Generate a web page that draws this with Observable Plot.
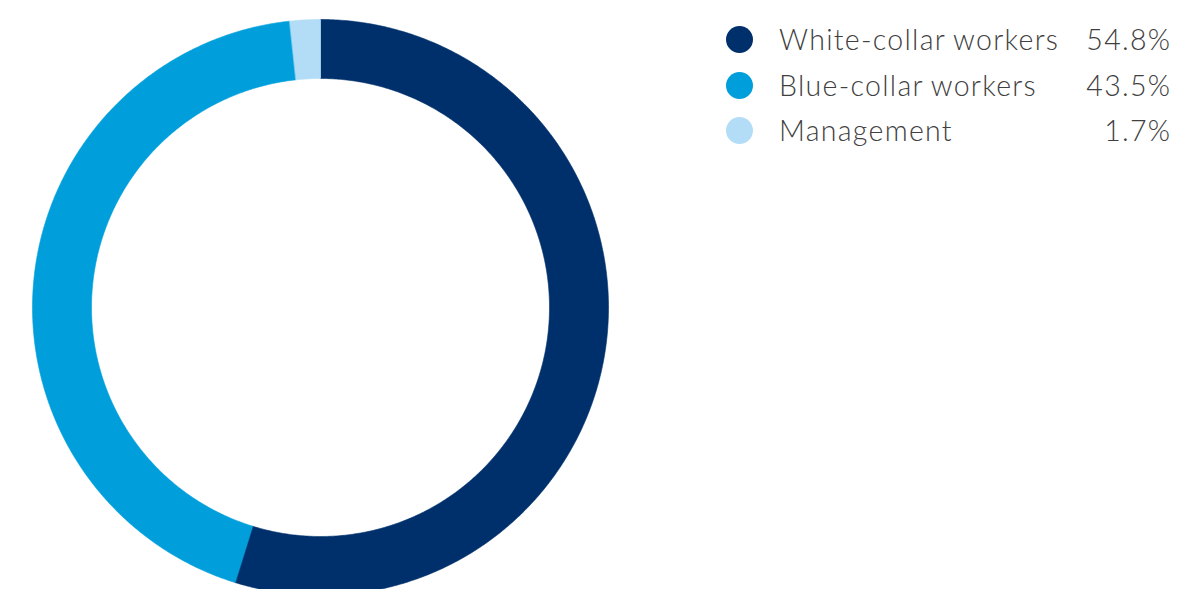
<!DOCTYPE html>
<html>
<head>
<meta charset="utf-8">
<script src="https://cdn.jsdelivr.net/npm/d3@7"></script>
<script src="https://cdn.jsdelivr.net/npm/@observablehq/plot@0.6"></script>
<style>
  html, body { margin: 0; padding: 0; background: #fff; }
  #wrap { position: relative; width: 1178px; height: 589px; overflow: hidden; }
  #chart { position: absolute; left: 0; top: 0; }
  #legend { position: absolute; left: 725px; top: 17px; width: 445px;
            font-family: Lato, "Open Sans", sans-serif; font-weight: 300; font-size: 28.5px; color: #404040;
            letter-spacing: 1.3px; }
  .row { position: relative; height: 45.5px; line-height: 45.5px; }
  .sw { position: absolute; left: 1px; top: 9px; width: 27px; height: 27px; border-radius: 50%; }
  .lab { position: absolute; left: 54px; top: 0; white-space: nowrap; word-spacing: -1px; }
  .pct { position: absolute; right: -1.3px; top: 0; white-space: nowrap; }
</style>
</head>
<body>
<div id="wrap">
  <div id="chart"></div>
  <div id="legend"></div>
</div>
<script>
const categories = ["White-collar workers", "Blue-collar workers", "Management"];
const shares = [54.8, 43.5, 1.7];
const colors = ["#00306b", "#009fdc", "#b3ddf7"];

const W = 1178, H = 589;
const cx = 320, cy = 307, R = 288, r0 = 229; // pixel layout of the ring
const inner = r0 / R;

// Build ring-segment outlines in data units (angle clockwise from 12 o'clock)
const total = d3.sum(shares);
const points = [];
let acc = 0;
categories.forEach((cat, i) => {
  const a0 = acc / total * 2 * Math.PI;
  acc += shares[i];
  const a1 = acc / total * 2 * Math.PI;
  const n = Math.max(2, Math.ceil((a1 - a0) / (Math.PI / 360)));
  for (let k = 0; k <= n; k++) {
    const a = a0 + (a1 - a0) * k / n;
    points.push({cat, x: Math.sin(a), y: Math.cos(a)});
  }
  for (let k = n; k >= 0; k--) {
    const a = a0 + (a1 - a0) * k / n;
    points.push({cat, x: inner * Math.sin(a), y: inner * Math.cos(a)});
  }
});

const plot = Plot.plot({
  width: W, height: H,
  margin: 0,
  x: {domain: [-cx / R, (W - cx) / R], axis: null},
  y: {domain: [-(H - cy) / R, cy / R], axis: null},
  color: {domain: categories, range: colors},
  marks: [
    Plot.line(points, {x: "x", y: "y", z: "cat", fill: "cat", stroke: "cat", strokeWidth: 0.6, curve: "linear-closed"})
  ]
});
document.getElementById("chart").appendChild(plot);

const legend = document.getElementById("legend");
categories.forEach((cat, i) => {
  const row = document.createElement("div");
  row.className = "row";
  row.innerHTML = `<span class="sw" style="background:${colors[i]}"></span><span class="lab">${cat}</span><span class="pct">${shares[i].toFixed(1)}%</span>`;
  legend.appendChild(row);
});
</script>
</body>
</html>
